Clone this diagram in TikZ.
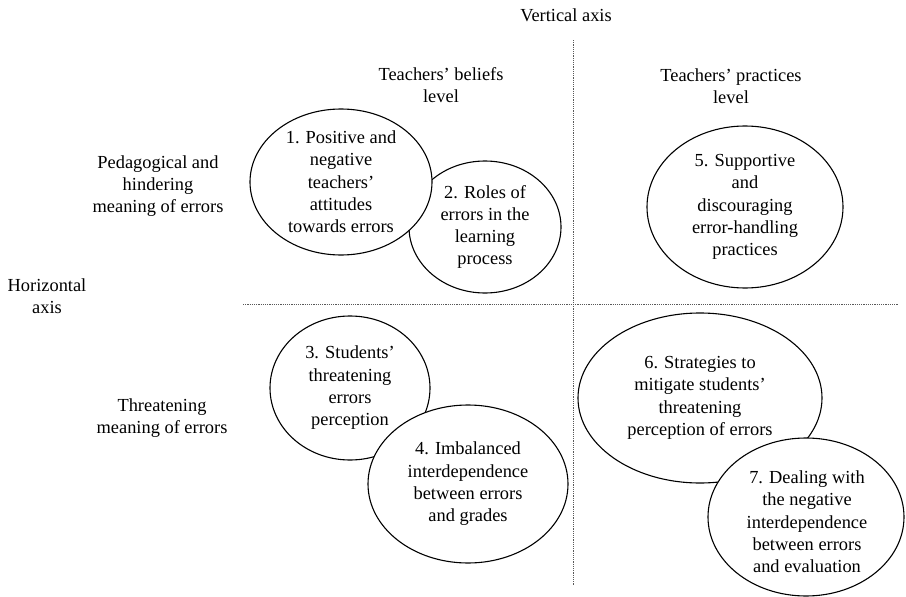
\documentclass[tikz,border=0pt]{standalone}
\usepackage{fontspec}
\setmainfont{Liberation Serif}
\usetikzlibrary{shapes.geometric}
\begin{document}
\begin{tikzpicture}[x=1pt,y=-1pt,
  every node/.style={font=\rmfamily\fontsize{18.4}{22.3}\selectfont, align=center, inner sep=0pt},
  bubble/.style={draw=black, line width=1.1pt, fill=white, ellipse},
  axisline/.style={draw=black!65, line width=0.7pt, dash pattern=on 1.2pt off 1pt}]
\useasboundingbox (0,0) rectangle (906,597);
\fill[white] (0,0) rectangle (906,597);
% axes
\coordinate (vtop) at (573,40);
\coordinate (vbot) at (573,585);
\coordinate (hl) at (243,304);
\coordinate (hr) at (898,304);
\draw[axisline] (vtop) -- (vbot);
\draw[axisline] (hl) -- (hr);
% labels
\node (vax) at (566,15) {Vertical axis};
\node (bel) at (441,85) {Teachers’ beliefs\\level};
\node (pra) at (731,86) {Teachers’ practices\\level};
\node (ped) at (158,186) {Pedagogical and\\hindering\\meaning of errors};
\node (hax) at (47,296) {Horizontal\\axis};
\node (thr) at (162,418) {Threatening\\meaning of errors};
% bubbles
\node[bubble, minimum width=152pt, minimum height=132pt] (e2) at (485,227) {2. Roles of\\errors in the\\learning\\process};
\node[bubble, minimum width=182pt, minimum height=146pt] (e1) at (341,182) {1. Positive and\\negative\\teachers’\\attitudes\\towards errors};
\node[bubble, minimum width=196pt, minimum height=162pt] (e5) at (745,207) {5. Supportive\\and\\discouraging\\error-handling\\practices};
\node[bubble, minimum width=160pt, minimum height=144pt] (e3) at (350,388) {3. Students’\\threatening\\errors\\perception};
\node[bubble, minimum width=200pt, minimum height=158pt] (e4) at (468,484) {4. Imbalanced\\interdependence\\between errors\\and grades};
\node[bubble, minimum width=244pt, minimum height=170pt] (e6) at (700,398) {6. Strategies to\\mitigate students’\\threatening\\perception of errors};
\node[bubble, minimum width=196pt, minimum height=158pt] (e7) at (806,517) {};
\node (t7) at (807,522) {7. Dealing with\\the negative\\interdependence\\between errors\\and evaluation};
\end{tikzpicture}
\end{document}
